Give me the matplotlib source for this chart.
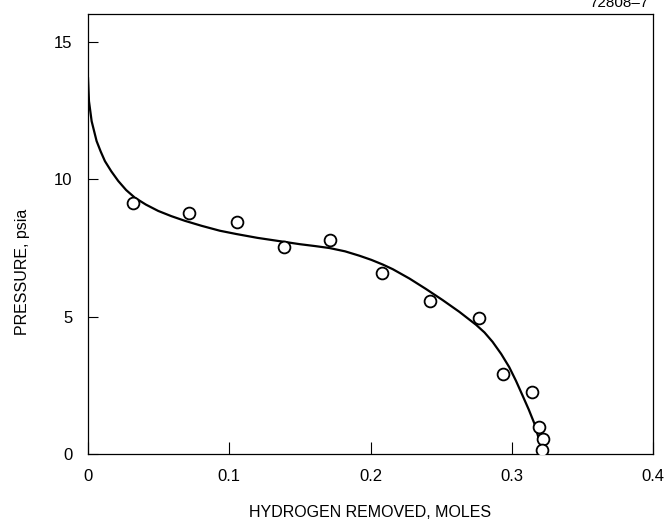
"""
Pressao vs hidrogenio removido - curva de dessorcao
"""

import matplotlib
matplotlib.use("Agg")
import matplotlib.pyplot as plt


# ==================== DADOS ====================
# pontos medidos (circulos)
h_removed = [0.0316, 0.0716, 0.1055, 0.139, 0.171, 0.208, 0.2424,
             0.2765, 0.2935, 0.314, 0.319, 0.322, 0.3215]
pressure = [9.12, 8.76, 8.43, 7.54, 7.80, 6.60, 5.58,
            4.95, 2.92, 2.26, 0.97, 0.54, 0.14]

# curva ajustada
curve_x = [0.0, 0.0007, 0.0026, 0.0061, 0.009, 0.012, 0.0165, 0.0214,
           0.027, 0.0332, 0.041, 0.0497, 0.059, 0.0686, 0.0803, 0.0933,
           0.105, 0.12, 0.1357, 0.150, 0.161, 0.171, 0.182, 0.1922,
           0.2006, 0.2087, 0.2158, 0.2276, 0.2393, 0.251, 0.2629, 0.2747,
           0.2807, 0.2864, 0.2925, 0.2982, 0.303, 0.3077, 0.312, 0.316,
           0.3194, 0.322]
curve_y = [13.7, 12.83, 12.1, 11.38, 11.0, 10.65, 10.28, 9.93,
           9.6, 9.32, 9.07, 8.84, 8.65, 8.48, 8.30, 8.12,
           8.0, 7.86, 7.74, 7.63, 7.56, 7.49, 7.37, 7.21,
           7.06, 6.89, 6.72, 6.38, 6.00, 5.60, 5.17, 4.70,
           4.42, 4.08, 3.64, 3.16, 2.66, 2.12, 1.62, 1.11,
           0.51, 0.0]

x_ticks = [0, 0.1, 0.2, 0.3, 0.4]
x_tick_labels = ["0", "0.1", "0.2", "0.3", "0.4"]
y_ticks = [0, 5, 10, 15]
y_tick_labels = ["0", "5", "10", "15"]


plt.rcParams["font.family"] = ["Liberation Sans", "DejaVu Sans"]

fig = plt.figure(figsize=(6.65, 5.25), dpi=100)
ax = fig.add_axes([0.1323, 0.1352, 0.8497, 0.8381])

ax.plot(curve_x, curve_y, "k-", lw=1.6, solid_capstyle="round",
        solid_joinstyle="round", zorder=2)
ax.plot(h_removed, pressure, "o", ms=8.5, mfc="white", mec="black",
        mew=1.3, zorder=3)

ax.set_xlim(0, 0.4)
ax.set_ylim(0, 16)
ax.set_xticks(x_ticks)
ax.set_xticklabels(x_tick_labels)
ax.set_yticks(y_ticks)
ax.set_yticklabels(y_tick_labels)
ax.tick_params(axis="x", direction="in", length=9, width=0.8,
               labelsize=12, pad=11)
ax.tick_params(axis="y", direction="in", length=7, width=0.8,
               labelsize=12, pad=11)

for sp in ax.spines.values():
    sp.set_linewidth(0.9)

ax.set_xlabel("HYDROGEN REMOVED, MOLES", fontsize=11.5, labelpad=15)
ax.set_ylabel("PRESSURE, psia", fontsize=11.5, labelpad=19)
ax.yaxis.set_label_coords(-0.103, 0.415)

# numero da figura, cortado no topo
fig.text(0.975, 0.994, "72808\u20137", fontsize=11, ha="right", va="center")

plt.savefig("out.png", dpi=100)
plt.close()
